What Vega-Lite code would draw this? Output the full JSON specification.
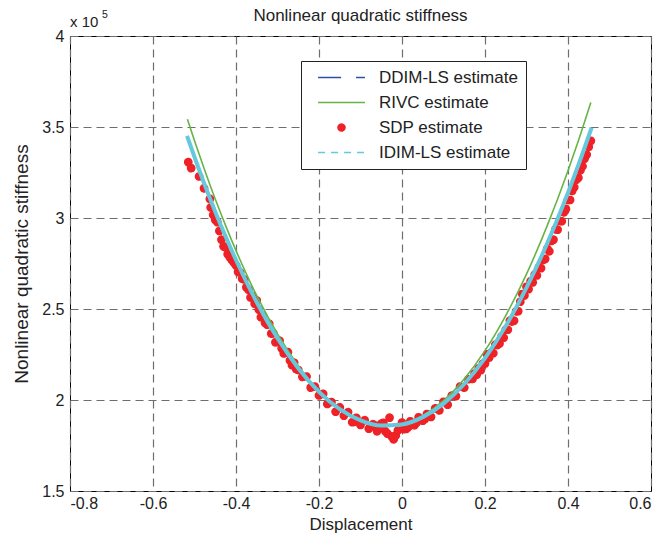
{
  "$schema": "https://vega.github.io/schema/vega-lite/v6.json",
  "width": 581,
  "height": 455,
  "autosize": "none",
  "padding": {"left": 70, "top": 36, "right": 10, "bottom": 48},
  "background": "white",
  "config": {
    "view": {"stroke": "#000", "strokeWidth": 1},
    "axis": {"labelFont": "Liberation Sans", "titleFont": "Liberation Sans", "labelColor": "#222", "titleColor": "#222", "titleFontWeight": "normal", "labelFontSize": 16, "titleFontSize": 17, "grid": true, "gridDash": [8, 5], "gridColor": "#6e6e6e", "gridWidth": 1.2, "gridOpacity": 1, "ticks": false, "domain": false}
  },
  "datasets": {
    "est": [
      {"series": "IDIM-LS estimate", "x": -0.518, "y": 3.451}, {"series": "IDIM-LS estimate", "x": -0.5, "y": 3.335}, {"series": "IDIM-LS estimate", "x": -0.475, "y": 3.18}, {"series": "IDIM-LS estimate", "x": -0.45, "y": 3.035}, {"series": "IDIM-LS estimate", "x": -0.425, "y": 2.898}, {"series": "IDIM-LS estimate", "x": -0.4, "y": 2.769}, {"series": "IDIM-LS estimate", "x": -0.35, "y": 2.537}, {"series": "IDIM-LS estimate", "x": -0.3, "y": 2.339}, {"series": "IDIM-LS estimate", "x": -0.25, "y": 2.175}, {"series": "IDIM-LS estimate", "x": -0.2, "y": 2.045}, {"series": "IDIM-LS estimate", "x": -0.15, "y": 1.95}, {"series": "IDIM-LS estimate", "x": -0.1, "y": 1.888}, {"series": "IDIM-LS estimate", "x": -0.05, "y": 1.86}, {"series": "IDIM-LS estimate", "x": 0, "y": 1.866}, {"series": "IDIM-LS estimate", "x": 0.05, "y": 1.906}, {"series": "IDIM-LS estimate", "x": 0.1, "y": 1.98}, {"series": "IDIM-LS estimate", "x": 0.15, "y": 2.088}, {"series": "IDIM-LS estimate", "x": 0.2, "y": 2.23}, {"series": "IDIM-LS estimate", "x": 0.25, "y": 2.406}, {"series": "IDIM-LS estimate", "x": 0.3, "y": 2.617}, {"series": "IDIM-LS estimate", "x": 0.35, "y": 2.861}, {"series": "IDIM-LS estimate", "x": 0.4, "y": 3.139}, {"series": "IDIM-LS estimate", "x": 0.425, "y": 3.291}, {"series": "IDIM-LS estimate", "x": 0.457, "y": 3.497},
      {"series": "RIVC estimate", "x": -0.517, "y": 3.542}, {"series": "RIVC estimate", "x": -0.5, "y": 3.425}, {"series": "RIVC estimate", "x": -0.475, "y": 3.26}, {"series": "RIVC estimate", "x": -0.45, "y": 3.104}, {"series": "RIVC estimate", "x": -0.425, "y": 2.958}, {"series": "RIVC estimate", "x": -0.4, "y": 2.821}, {"series": "RIVC estimate", "x": -0.35, "y": 2.573}, {"series": "RIVC estimate", "x": -0.3, "y": 2.363}, {"series": "RIVC estimate", "x": -0.25, "y": 2.189}, {"series": "RIVC estimate", "x": -0.2, "y": 2.051}, {"series": "RIVC estimate", "x": -0.15, "y": 1.951}, {"series": "RIVC estimate", "x": -0.1, "y": 1.887}, {"series": "RIVC estimate", "x": -0.05, "y": 1.859}, {"series": "RIVC estimate", "x": 0, "y": 1.868}, {"series": "RIVC estimate", "x": 0.05, "y": 1.914}, {"series": "RIVC estimate", "x": 0.1, "y": 1.997}, {"series": "RIVC estimate", "x": 0.15, "y": 2.116}, {"series": "RIVC estimate", "x": 0.2, "y": 2.271}, {"series": "RIVC estimate", "x": 0.25, "y": 2.464}, {"series": "RIVC estimate", "x": 0.3, "y": 2.692}, {"series": "RIVC estimate", "x": 0.35, "y": 2.958}, {"series": "RIVC estimate", "x": 0.4, "y": 3.26}, {"series": "RIVC estimate", "x": 0.425, "y": 3.425}, {"series": "RIVC estimate", "x": 0.455, "y": 3.635},
      {"series": "DDIM-LS estimate", "x": -0.518, "y": 3.44}, {"series": "DDIM-LS estimate", "x": -0.5, "y": 3.326}, {"series": "DDIM-LS estimate", "x": -0.475, "y": 3.172}, {"series": "DDIM-LS estimate", "x": -0.45, "y": 3.028}, {"series": "DDIM-LS estimate", "x": -0.425, "y": 2.892}, {"series": "DDIM-LS estimate", "x": -0.4, "y": 2.764}, {"series": "DDIM-LS estimate", "x": -0.35, "y": 2.533}, {"series": "DDIM-LS estimate", "x": -0.3, "y": 2.336}, {"series": "DDIM-LS estimate", "x": -0.25, "y": 2.173}, {"series": "DDIM-LS estimate", "x": -0.2, "y": 2.044}, {"series": "DDIM-LS estimate", "x": -0.15, "y": 1.949}, {"series": "DDIM-LS estimate", "x": -0.1, "y": 1.887}, {"series": "DDIM-LS estimate", "x": -0.05, "y": 1.859}, {"series": "DDIM-LS estimate", "x": 0, "y": 1.865}, {"series": "DDIM-LS estimate", "x": 0.05, "y": 1.905}, {"series": "DDIM-LS estimate", "x": 0.1, "y": 1.979}, {"series": "DDIM-LS estimate", "x": 0.15, "y": 2.086}, {"series": "DDIM-LS estimate", "x": 0.2, "y": 2.228}, {"series": "DDIM-LS estimate", "x": 0.25, "y": 2.403}, {"series": "DDIM-LS estimate", "x": 0.3, "y": 2.613}, {"series": "DDIM-LS estimate", "x": 0.35, "y": 2.856}, {"series": "DDIM-LS estimate", "x": 0.4, "y": 3.133}, {"series": "DDIM-LS estimate", "x": 0.425, "y": 3.284}, {"series": "DDIM-LS estimate", "x": 0.457, "y": 3.489}
    ],
    "sdp": [
      {"series": "SDP estimate", "x": -0.515, "y": 3.307}, {"series": "SDP estimate", "x": -0.508, "y": 3.274}, {"series": "SDP estimate", "x": -0.489, "y": 3.228}, {"series": "SDP estimate", "x": -0.477, "y": 3.163}, {"series": "SDP estimate", "x": -0.463, "y": 3.105}, {"series": "SDP estimate", "x": -0.461, "y": 3.058}, {"series": "SDP estimate", "x": -0.455, "y": 3.017}, {"series": "SDP estimate", "x": -0.45, "y": 2.99},
      {"series": "SDP estimate", "x": -0.445, "y": 2.977}, {"series": "SDP estimate", "x": -0.44, "y": 2.929}, {"series": "SDP estimate", "x": -0.435, "y": 2.881}, {"series": "SDP estimate", "x": -0.43, "y": 2.844}, {"series": "SDP estimate", "x": -0.425, "y": 2.838}, {"series": "SDP estimate", "x": -0.42, "y": 2.801}, {"series": "SDP estimate", "x": -0.415, "y": 2.785}, {"series": "SDP estimate", "x": -0.41, "y": 2.769}, {"series": "SDP estimate", "x": -0.405, "y": 2.754}, {"series": "SDP estimate", "x": -0.4, "y": 2.739},
      {"series": "SDP estimate", "x": -0.395, "y": 2.704}, {"series": "SDP estimate", "x": -0.39, "y": 2.7}, {"series": "SDP estimate", "x": -0.385, "y": 2.666}, {"series": "SDP estimate", "x": -0.38, "y": 2.662}, {"series": "SDP estimate", "x": -0.375, "y": 2.619}, {"series": "SDP estimate", "x": -0.37, "y": 2.606}, {"series": "SDP estimate", "x": -0.365, "y": 2.563}, {"series": "SDP estimate", "x": -0.36, "y": 2.571}, {"series": "SDP estimate", "x": -0.355, "y": 2.529}, {"series": "SDP estimate", "x": -0.35, "y": 2.547},
      {"series": "SDP estimate", "x": -0.345, "y": 2.496}, {"series": "SDP estimate", "x": -0.34, "y": 2.455}, {"series": "SDP estimate", "x": -0.335, "y": 2.464}, {"series": "SDP estimate", "x": -0.33, "y": 2.424}, {"series": "SDP estimate", "x": -0.325, "y": 2.414}, {"series": "SDP estimate", "x": -0.32, "y": 2.419}, {"series": "SDP estimate", "x": -0.315, "y": 2.365}, {"series": "SDP estimate", "x": -0.31, "y": 2.366}, {"series": "SDP estimate", "x": -0.305, "y": 2.317}, {"series": "SDP estimate", "x": -0.3, "y": 2.319},
      {"series": "SDP estimate", "x": -0.295, "y": 2.326}, {"series": "SDP estimate", "x": -0.29, "y": 2.284}, {"series": "SDP estimate", "x": -0.285, "y": 2.256}, {"series": "SDP estimate", "x": -0.28, "y": 2.26}, {"series": "SDP estimate", "x": -0.275, "y": 2.263}, {"series": "SDP estimate", "x": -0.27, "y": 2.217}, {"series": "SDP estimate", "x": -0.265, "y": 2.191}, {"series": "SDP estimate", "x": -0.26, "y": 2.205}, {"series": "SDP estimate", "x": -0.255, "y": 2.17}, {"series": "SDP estimate", "x": -0.25, "y": 2.165},
      {"series": "SDP estimate", "x": -0.24, "y": 2.127}, {"series": "SDP estimate", "x": -0.23, "y": 2.129}, {"series": "SDP estimate", "x": -0.22, "y": 2.068}, {"series": "SDP estimate", "x": -0.21, "y": 2.074}, {"series": "SDP estimate", "x": -0.2, "y": 2.025}, {"series": "SDP estimate", "x": -0.19, "y": 2.034}, {"series": "SDP estimate", "x": -0.18, "y": 1.978}, {"series": "SDP estimate", "x": -0.17, "y": 1.989}, {"series": "SDP estimate", "x": -0.16, "y": 1.936}, {"series": "SDP estimate", "x": -0.15, "y": 1.96},
      {"series": "SDP estimate", "x": -0.14, "y": 1.914}, {"series": "SDP estimate", "x": -0.13, "y": 1.933}, {"series": "SDP estimate", "x": -0.12, "y": 1.878}, {"series": "SDP estimate", "x": -0.11, "y": 1.902}, {"series": "SDP estimate", "x": -0.1, "y": 1.863}, {"series": "SDP estimate", "x": -0.09, "y": 1.889}, {"series": "SDP estimate", "x": -0.08, "y": 1.842}, {"series": "SDP estimate", "x": -0.07, "y": 1.867}, {"series": "SDP estimate", "x": -0.06, "y": 1.828}, {"series": "SDP estimate", "x": -0.05, "y": 1.87},
      {"series": "SDP estimate", "x": -0.04, "y": 1.828}, {"series": "SDP estimate", "x": -0.03, "y": 1.903}, {"series": "SDP estimate", "x": -0.02, "y": 1.784}, {"series": "SDP estimate", "x": -0.01, "y": 1.832}, {"series": "SDP estimate", "x": 0, "y": 1.876}, {"series": "SDP estimate", "x": 0.01, "y": 1.841}, {"series": "SDP estimate", "x": 0.02, "y": 1.883}, {"series": "SDP estimate", "x": 0.03, "y": 1.861}, {"series": "SDP estimate", "x": 0.04, "y": 1.905}, {"series": "SDP estimate", "x": 0.05, "y": 1.886},
      {"series": "SDP estimate", "x": 0.06, "y": 1.923}, {"series": "SDP estimate", "x": 0.07, "y": 1.907}, {"series": "SDP estimate", "x": 0.08, "y": 1.954}, {"series": "SDP estimate", "x": 0.09, "y": 1.943}, {"series": "SDP estimate", "x": 0.1, "y": 1.99}, {"series": "SDP estimate", "x": 0.11, "y": 1.974}, {"series": "SDP estimate", "x": 0.12, "y": 2.024}, {"series": "SDP estimate", "x": 0.13, "y": 2.021}, {"series": "SDP estimate", "x": 0.14, "y": 2.074}, {"series": "SDP estimate", "x": 0.15, "y": 2.068},
      {"series": "SDP estimate", "x": 0.16, "y": 2.114}, {"series": "SDP estimate", "x": 0.17, "y": 2.116},
      {"series": "SDP estimate", "x": -0.115, "y": 1.88}, {"series": "SDP estimate", "x": -0.075, "y": 1.855}, {"series": "SDP estimate", "x": -0.065, "y": 1.86}, {"series": "SDP estimate", "x": -0.055, "y": 1.845}, {"series": "SDP estimate", "x": -0.045, "y": 1.875}, {"series": "SDP estimate", "x": -0.035, "y": 1.815}, {"series": "SDP estimate", "x": -0.025, "y": 1.8}, {"series": "SDP estimate", "x": -0.015, "y": 1.805}, {"series": "SDP estimate", "x": 0.005, "y": 1.84}, {"series": "SDP estimate", "x": 0.015, "y": 1.85}, {"series": "SDP estimate", "x": 0.035, "y": 1.875}, {"series": "SDP estimate", "x": 0.055, "y": 1.895},
      {"series": "SDP estimate", "x": 0.175, "y": 2.145}, {"series": "SDP estimate", "x": 0.18, "y": 2.139}, {"series": "SDP estimate", "x": 0.185, "y": 2.174}, {"series": "SDP estimate", "x": 0.19, "y": 2.164}, {"series": "SDP estimate", "x": 0.195, "y": 2.2}, {"series": "SDP estimate", "x": 0.2, "y": 2.2}, {"series": "SDP estimate", "x": 0.205, "y": 2.251}, {"series": "SDP estimate", "x": 0.21, "y": 2.233}, {"series": "SDP estimate", "x": 0.215, "y": 2.26}, {"series": "SDP estimate", "x": 0.22, "y": 2.257},
      {"series": "SDP estimate", "x": 0.225, "y": 2.304}, {"series": "SDP estimate", "x": 0.23, "y": 2.302}, {"series": "SDP estimate", "x": 0.235, "y": 2.31}, {"series": "SDP estimate", "x": 0.24, "y": 2.349}, {"series": "SDP estimate", "x": 0.245, "y": 2.342}, {"series": "SDP estimate", "x": 0.25, "y": 2.386}, {"series": "SDP estimate", "x": 0.255, "y": 2.386}, {"series": "SDP estimate", "x": 0.26, "y": 2.436}, {"series": "SDP estimate", "x": 0.265, "y": 2.431}, {"series": "SDP estimate", "x": 0.27, "y": 2.436},
      {"series": "SDP estimate", "x": 0.275, "y": 2.487}, {"series": "SDP estimate", "x": 0.28, "y": 2.488}, {"series": "SDP estimate", "x": 0.285, "y": 2.54}, {"series": "SDP estimate", "x": 0.29, "y": 2.582}, {"series": "SDP estimate", "x": 0.295, "y": 2.574}, {"series": "SDP estimate", "x": 0.3, "y": 2.622}, {"series": "SDP estimate", "x": 0.305, "y": 2.609}, {"series": "SDP estimate", "x": 0.31, "y": 2.653}, {"series": "SDP estimate", "x": 0.315, "y": 2.646}, {"series": "SDP estimate", "x": 0.32, "y": 2.69},
      {"series": "SDP estimate", "x": 0.325, "y": 2.684}, {"series": "SDP estimate", "x": 0.33, "y": 2.729}, {"series": "SDP estimate", "x": 0.335, "y": 2.724}, {"series": "SDP estimate", "x": 0.34, "y": 2.769}, {"series": "SDP estimate", "x": 0.345, "y": 2.775}, {"series": "SDP estimate", "x": 0.35, "y": 2.831}, {"series": "SDP estimate", "x": 0.355, "y": 2.817}, {"series": "SDP estimate", "x": 0.36, "y": 2.874}, {"series": "SDP estimate", "x": 0.365, "y": 2.881}, {"series": "SDP estimate", "x": 0.37, "y": 2.938},
      {"series": "SDP estimate", "x": 0.375, "y": 2.936}, {"series": "SDP estimate", "x": 0.38, "y": 2.984}, {"series": "SDP estimate", "x": 0.385, "y": 2.982}, {"series": "SDP estimate", "x": 0.39, "y": 3.031}, {"series": "SDP estimate", "x": 0.395, "y": 3.05}, {"series": "SDP estimate", "x": 0.4, "y": 3.099}, {"series": "SDP estimate", "x": 0.405, "y": 3.099}, {"series": "SDP estimate", "x": 0.41, "y": 3.149}, {"series": "SDP estimate", "x": 0.415, "y": 3.169}, {"series": "SDP estimate", "x": 0.42, "y": 3.21},
      {"series": "SDP estimate", "x": 0.425, "y": 3.221}, {"series": "SDP estimate", "x": 0.43, "y": 3.262}, {"series": "SDP estimate", "x": 0.435, "y": 3.284}, {"series": "SDP estimate", "x": 0.44, "y": 3.326}, {"series": "SDP estimate", "x": 0.445, "y": 3.348}, {"series": "SDP estimate", "x": 0.45, "y": 3.391}, {"series": "SDP estimate", "x": 0.455, "y": 3.424}
    ],
    "notes": [
      {"label": "x 10", "sup": "5", "title": "Nonlinear quadratic stiffness"}
    ]
  },
  "layer": [
    {
      "data": {"name": "sdp"},
      "mark": {"type": "point", "filled": false, "fill": "#ee2227", "fillOpacity": 1, "size": 52, "strokeWidth": 1.5, "opacity": 1},
      "encoding": {
        "x": {"field": "x", "type": "quantitative", "title": "Displacement", "scale": {"domain": [-0.8, 0.6], "nice": false, "zero": false}, "axis": {"values": [-0.8, -0.6, -0.4, -0.2, 0, 0.2, 0.4, 0.6], "labelExpr": "'' + round(datum.value * 10) / 10", "labelPadding": 4, "titlePadding": 5}},
        "y": {"field": "y", "type": "quantitative", "title": "Nonlinear quadratic stiffness", "scale": {"domain": [1.5, 4], "nice": false, "zero": false}, "axis": {"values": [1.5, 2, 2.5, 3, 3.5, 4], "labelExpr": "'' + datum.value", "labelPadding": 6, "titlePadding": 10, "titleFontSize": 19}},
        "color": {"field": "series", "type": "nominal", "scale": {"domain": ["DDIM-LS estimate", "RIVC estimate", "SDP estimate", "IDIM-LS estimate"], "range": ["#2f4f9f", "#66b446", "#ee2227", "#66c8dc"]},
          "legend": {"orient": "none", "legendX": 231, "legendY": 25, "title": null, "strokeColor": "#222", "fillColor": "white", "padding": 8, "labelFontSize": 17, "labelFont": "Liberation Sans", "labelColor": "#222", "symbolSize": 49, "symbolStrokeWidth": 1.5, "symbolFillColor": "#ee2227", "rowPadding": 7, "symbolOffset": 24, "labelOffset": 29}
        },
        "shape": {"field": "series", "type": "nominal", "scale": {"domain": ["DDIM-LS estimate", "RIVC estimate", "SDP estimate", "IDIM-LS estimate"], "range": ["M-6.7,0H6.7", "M-6.7,0H6.7", "circle", "M-6.7,0H6.7"]}},
        "strokeDash": {"field": "series", "type": "nominal", "scale": {"domain": ["DDIM-LS estimate", "RIVC estimate", "SDP estimate", "IDIM-LS estimate"], "range": [[23, 15], [1, 0], [1, 0], [7, 6]]}}
      }
    },
    {
      "data": {"name": "est"},
      "transform": [{"filter": "datum.series === 'RIVC estimate'"}],
      "mark": {"type": "line", "strokeWidth": 1.6, "interpolate": "monotone"},
      "encoding": {"x": {"field": "x", "type": "quantitative"}, "y": {"field": "y", "type": "quantitative"}, "color": {"field": "series", "type": "nominal", "legend": null}}
    },
    {
      "data": {"name": "est"},
      "transform": [{"filter": "datum.series === 'DDIM-LS estimate'"}],
      "mark": {"type": "line", "strokeWidth": 1.5, "strokeDash": [23, 15], "interpolate": "monotone"},
      "encoding": {"x": {"field": "x", "type": "quantitative"}, "y": {"field": "y", "type": "quantitative"}, "color": {"field": "series", "type": "nominal", "legend": null}}
    },
    {
      "data": {"name": "est"},
      "transform": [{"filter": "datum.series === 'IDIM-LS estimate'"}],
      "mark": {"type": "line", "strokeWidth": 4, "interpolate": "monotone"},
      "encoding": {"x": {"field": "x", "type": "quantitative"}, "y": {"field": "y", "type": "quantitative"}, "color": {"field": "series", "type": "nominal", "legend": null}}
    },
    {
      "data": {"name": "notes"},
      "mark": {"type": "text", "align": "left", "baseline": "alphabetic", "fontSize": 15, "font": "Liberation Sans", "fill": "#222", "dy": -9, "clip": false},
      "encoding": {"x": {"datum": -0.8, "type": "quantitative"}, "y": {"datum": 4, "type": "quantitative"}, "text": {"field": "label", "type": "nominal"}}
    },
    {
      "data": {"name": "notes"},
      "mark": {"type": "text", "align": "left", "baseline": "alphabetic", "fontSize": 10.5, "font": "Liberation Sans", "fill": "#222", "dx": 32, "dy": -18, "clip": false},
      "encoding": {"x": {"datum": -0.8, "type": "quantitative"}, "y": {"datum": 4, "type": "quantitative"}, "text": {"field": "sup", "type": "nominal"}}
    },
    {
      "data": {"name": "notes"},
      "mark": {"type": "text", "align": "center", "baseline": "alphabetic", "fontSize": 17, "font": "Liberation Sans", "fill": "#222", "dy": -15, "clip": false},
      "encoding": {"x": {"datum": -0.1, "type": "quantitative"}, "y": {"datum": 4, "type": "quantitative"}, "text": {"field": "title", "type": "nominal"}}
    }
  ]
}
